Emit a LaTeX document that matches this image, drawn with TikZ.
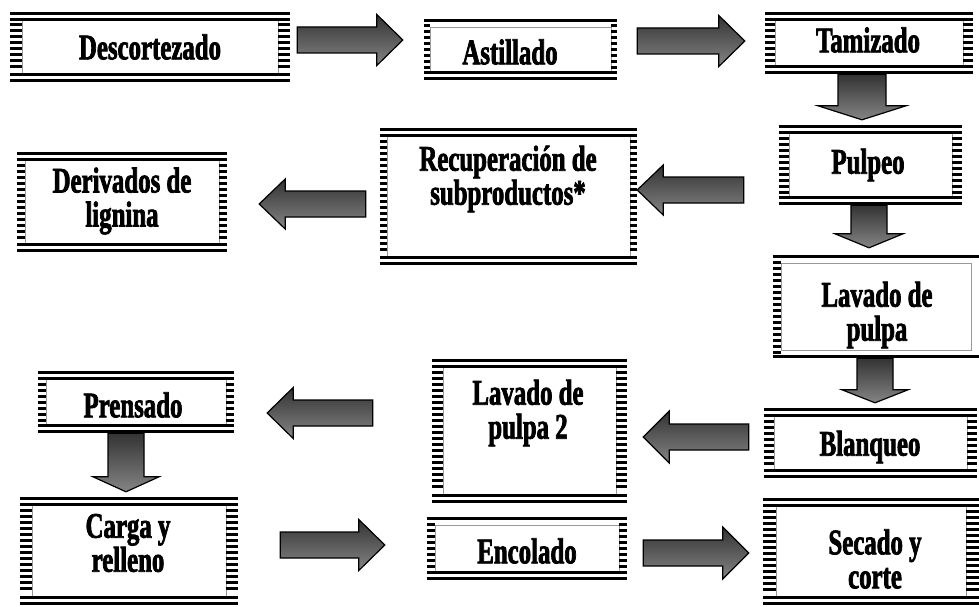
\documentclass[tikz,border=0pt]{standalone}
\usepackage{fontspec}
\newfontfamily\boxfont{Liberation Serif}[FakeStretch=0.69,FakeBold=2]
\usetikzlibrary{calc}
\tikzset{
  boxshape/.style={rectangle, inner sep=0pt, fill=white},
  boxtext/.style={font=\boxfont\bfseries\fontsize{36}{34}\selectfont, align=center, inner sep=0pt},
  barrow/.style={draw=black, line width=1.2pt, line join=miter, top color=black!80, bottom color=black!48},
  thickrule/.style={line width=3pt},
  stripe/.style={line width=3pt},
  innerrule/.style={line width=0.6pt, black!40},
}
% name, x0, y0, x1, y1, side width, top lines, bottom lines, right stripes
\newcommand\pbox[9]{%
  \node[boxshape, minimum width={(#4-#2)*1pt}, minimum height={(#5-#3)*1pt}] (#1) at ({(#2+#4)/2},{(#3+#5)/2}) {};
  \draw[innerrule] ({#2+#6},{#3+8}) rectangle ({#4-#6},{#5-8});
  \draw[thickrule] ({#2},{#3+1.5}) -- ({#4},{#3+1.5});
  \ifnum#7=2 \draw[thickrule] ({#2},{#3+7.5}) -- ({#4},{#3+7.5});\fi
  \draw[thickrule] ({#2},{#5-1.5}) -- ({#4},{#5-1.5});
  \ifnum#8=2 \draw[thickrule] ({#2},{#5-7.5}) -- ({#4},{#5-7.5});\fi
  \ifnum#7=2 \pgfmathsetmacro\sya{#3+13}\else\pgfmathsetmacro\sya{#3+7}\fi
  \pgfmathsetmacro\syb{\sya+6}%
  \ifnum#8=2 \pgfmathsetmacro\syc{#5-12}\else\pgfmathsetmacro\syc{#5-6}\fi
  \foreach \yy in {\sya,\syb,...,\syc}{%
    \draw[stripe] (#2,\yy) -- ++(#6,0);
    \ifnum#9=1 \draw[stripe] (#4,\yy) -- ++(-#6,0);\fi
  }%
}
% start, end, body half width, head half width, head length
\newcommand\blockarrow[5]{%
  \coordinate (hb) at ($(#2)!#5pt!(#1)$);
  \draw[barrow] ($(#1)!#3pt!90:(#2)$) -- ($(hb)!#3pt!-90:(#1)$) -- ($(hb)!#4pt!-90:(#1)$) -- (#2)
    -- ($(hb)!#4pt!90:(#1)$) -- ($(hb)!#3pt!90:(#1)$) -- ($(#1)!#3pt!-90:(#2)$) -- cycle;
}
\begin{document}
\begin{tikzpicture}[x=1pt,y=-1pt]
\useasboundingbox[fill=white] (0,0) rectangle (979,607);

\pbox{desc}{10}{12}{290}{82}{12}{2}{2}{1}
\pbox{ast}{424}{19}{617}{80}{6}{1}{2}{1}
\pbox{tam}{765}{12}{973}{74}{10}{2}{2}{1}
\pbox{pulp}{779}{125}{962}{205}{10}{2}{2}{1}
\pbox{recup}{380}{128}{637}{265}{7}{2}{2}{1}
\pbox{der}{17}{152}{227}{252}{8}{2}{2}{1}
\pbox{lav}{773}{255}{979}{358}{8}{1}{1}{0}
\pbox{blan}{764}{408}{977}{478}{10}{2}{2}{1}
\pbox{lav2}{432}{359}{627}{503}{11}{2}{2}{1}
\pbox{pren}{38}{371}{234}{433}{8}{2}{2}{1}
\pbox{carga}{20}{497}{238}{605}{12}{2}{2}{1}
\pbox{enc}{427}{517}{627}{580}{8}{1}{2}{1}
\pbox{sec}{763}{498}{979}{605}{13}{2}{2}{1}

\node[boxtext] (desc-t) at (150,47) {Descortezado};
\node[boxtext] (ast-t) at (510,52) {Astillado};
\node[boxtext] (tam-t) at (868,40) {Tamizado};
\node[boxtext] (pulp-t) at (868,165) {Pulpeo};
\node[boxtext] (recup-t) at (508,179) {Recuperación de\\subproductos*};
\node[boxtext] (der-t) at (122,201) {Derivados de\\lignina};
\node[boxtext] (lav-t) at (877,315) {Lavado de\\pulpa};
\node[boxtext] (blan-t) at (870,447) {Blanqueo};
\node[boxtext] (lav2-t) at (528,413) {Lavado de\\pulpa 2};
\node[boxtext] (pren-t) at (133,405) {Prensado};
\node[boxtext] (carga-t) at (128,543) {Carga y\\relleno};
\node[boxtext] (enc-t) at (527,551) {Encolado};
\node[boxtext] (sec-t) at (875,559) {Secado y\\corte};

% arrow end points, relative to the boxes
\coordinate (a1s) at ($(desc.east)+(7,-7)$);
\coordinate (a1e) at ($(ast.west)+(-21,-9.5)$);
\coordinate (a2s) at ($(ast.east)+(20,-8.5)$);
\coordinate (a2e) at ($(tam.west)+(-20,-2)$);
\coordinate (a3s) at ($(tam.south)+(-7,0)$);
\coordinate (a3e) at ($(pulp.north)+(-8.5,-5)$);
\coordinate (a4s) at ($(pulp.south)+(-1.5,0)$);
\coordinate (a4e) at ($(lav.north)+(-7,-7)$);
\coordinate (a5s) at ($(lav.south)+(-1,0)$);
\coordinate (a5e) at ($(blan.north)+(4.5,-5)$);
\coordinate (a6s) at ($(pren.south)+(-10,0)$);
\coordinate (a6e) at ($(carga.north)+(-3,-5)$);
\coordinate (a7s) at ($(pulp.west)+(-35,25)$);
\coordinate (a7e) at ($(recup.east)+(0,-6.5)$);
\coordinate (a8s) at ($(recup.west)+(-14,7.5)$);
\coordinate (a8e) at ($(der.east)+(32,2)$);
\coordinate (a9s) at ($(blan.west)+(-15,-6)$);
\coordinate (a9e) at ($(lav2.east)+(16,6)$);
\coordinate (a10s) at ($(lav2.west)+(-59,-18)$);
\coordinate (a10e) at ($(pren.east)+(33,11)$);
\coordinate (a11s) at ($(carga.east)+(42,-6)$);
\coordinate (a11e) at ($(enc.west)+(-42,-3.5)$);
\coordinate (a12s) at ($(enc.east)+(16,4.5)$);
\coordinate (a12e) at ($(sec.west)+(-14,1.5)$);

\blockarrow{a1s}{a1e}{13}{25.5}{26}
\blockarrow{a2s}{a2e}{13}{25.5}{26}
\blockarrow{a3s}{a3e}{24}{44}{14}
\blockarrow{a4s}{a4e}{18}{34}{14}
\blockarrow{a5s}{a5e}{18}{33}{13}
\blockarrow{a6s}{a6e}{18}{33}{15}
\blockarrow{a7s}{a7e}{13}{25}{26}
\blockarrow{a8s}{a8e}{13}{25}{26}
\blockarrow{a9s}{a9e}{13}{26}{26}
\blockarrow{a10s}{a10e}{13}{25.5}{26}
\blockarrow{a11s}{a11e}{13}{25.5}{26}
\blockarrow{a12s}{a12e}{13}{26}{26}
\end{tikzpicture}
\end{document}
